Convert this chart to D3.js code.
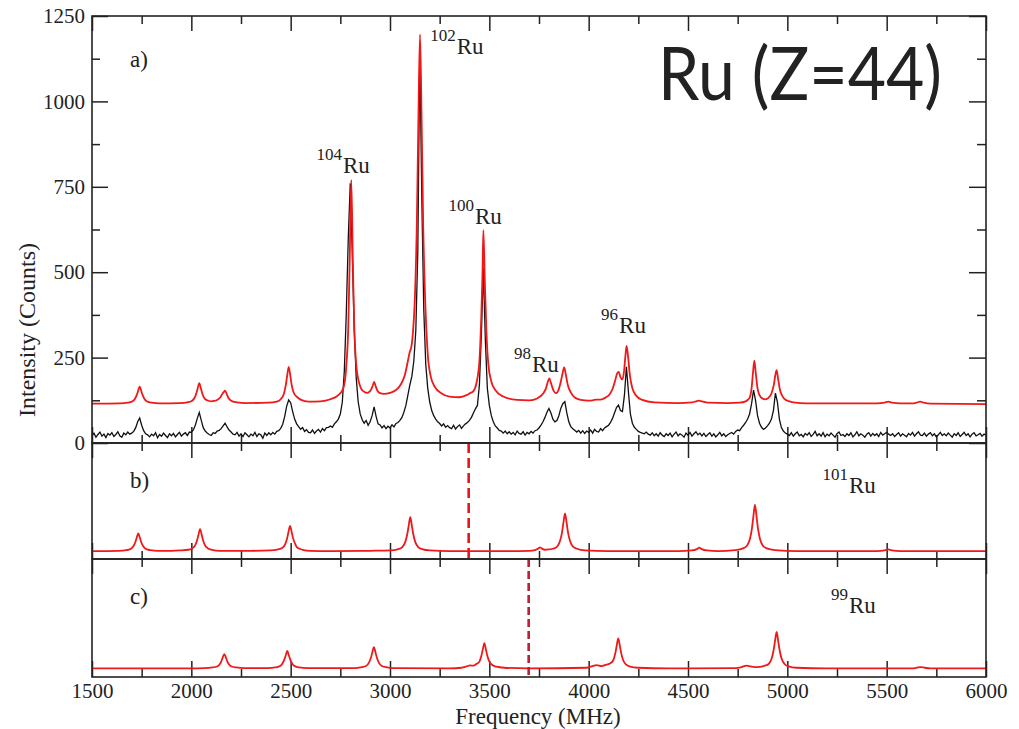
<!DOCTYPE html>
<html>
<head>
<meta charset="utf-8">
<script src="https://cdn.jsdelivr.net/npm/d3@7"></script>
<style>
body { margin: 0; background: #fff; }
text { font-family: "Liberation Serif", "Times New Roman", serif; fill: #222; }
</style>
</head>
<body>
<svg id="chart" width="1019" height="729"></svg>
<script>
// ---- data ----
const freqTicks = [1500, 2000, 2500, 3000, 3500, 4000, 4500, 5000, 5500, 6000];
const freqMinor = [1750, 2250, 2750, 3250, 3750, 4250, 4750, 5250, 5750];
const countTicks = [0, 250, 500, 750, 1000, 1250];
const countMinor = [125, 375, 625, 875, 1125];

// panel a) fit (red), [MHz, counts]
const fitA = [
  [1500,115],[1640,116],[1680,118],[1700,121],[1715,128],[1725,140],[1732,152],[1740,165],[1748,152],[1755,140],
  [1765,128],[1780,121],[1800,118],[1840,116],[1940,117],[1980,119],[2000,122],[2015,131],[2025,145],[2032,160],
  [2040,175],[2048,160],[2055,145],[2065,132],[2080,125],[2100,122],[2115,123],[2130,126],[2145,133],[2155,143],
  [2162,148],[2170,153],[2178,144],[2185,134],[2195,126],[2210,121],[2230,119],[2270,117],[2390,118],[2430,121],
  [2450,128],[2465,143],[2475,168],[2482,195],[2490,223],[2498,198],[2505,170],[2515,148],[2530,136],[2550,127],
  [2590,121],[2650,122],[2700,128],[2740,140],[2765,160],[2780,225],[2790,340],[2797,530],[2805,770],[2813,530],
  [2820,345],[2830,230],[2845,175],[2865,152],[2885,147],[2900,152],[2912,166],[2920,179],[2928,166],[2937,153],
  [2950,146],[2970,144],[3000,147],[3030,155],[3055,172],[3075,200],[3090,240],[3100,268],[3107,280],[3115,320],
  [3125,420],[3135,640],[3143,950],[3151,1196],[3159,950],[3167,640],[3177,420],[3190,260],[3205,195],[3225,165],
  [3260,145],[3300,136],[3350,134],[3385,140],[3403,146],[3420,152],[3435,175],[3450,240],[3460,380],[3465,480],
  [3470,623],[3477,480],[3485,330],[3495,230],[3510,180],[3530,155],[3570,136],[3640,126],[3700,125],[3730,128],
  [3750,134],[3770,144],[3785,160],[3795,180],[3802,189],[3810,176],[3822,155],[3835,146],[3848,155],[3860,180],
  [3869,205],[3877,221],[3885,200],[3895,170],[3910,148],[3930,133],[3960,126],[4000,124],[4020,125],[4040,127],
  [4060,127],[4085,133],[4105,142],[4120,158],[4132,180],[4143,203],[4151,208],[4160,193],[4170,186],[4178,210],
  [4185,255],[4191,284],[4198,255],[4207,200],[4220,160],[4240,138],[4270,126],[4330,119],[4450,117],[4520,119],
  [4540,122],[4555,124],[4570,122],[4600,118],[4700,117],[4760,118],[4790,122],[4800,126],[4810,132],[4820,160],
  [4827,205],[4834,241],[4841,205],[4850,160],[4860,140],[4875,130],[4890,128],[4905,132],[4920,145],[4932,170],
  [4940,200],[4946,213],[4953,190],[4962,158],[4975,137],[4995,125],[5030,119],[5100,116],[5450,116],[5490,118],
  [5508,121],[5526,118],[5570,116],[5630,116],[5650,118],[5668,121],[5686,118],[5720,115],[6000,114]
];

// panel a) measured counts (black), one value every 10 MHz from 1500 MHz
const dataStart = 1500, dataStep = 10;
const countsA = [
  22,29,17,25,32,20,26,16,28,23,  30,19,25,33,21,17,29,24,32,26,
  29,34,45,62,73,52,36,27,24,18,  26,21,30,15,25,20,29,22,16,27,
  21,28,18,25,31,20,26,30,22,32,  31,38,52,72,89,66,45,35,29,25,
  22,30,28,35,37,42,50,58,47,38,  32,26,24,31,20,27,19,30,24,18,
  26,21,31,19,27,24,14,29,22,30,  24,31,26,34,36,43,55,78,108,126,
  118,92,70,56,48,40,45,34,39,31, 30,38,28,35,40,32,42,36,45,46,
  50,46,56,62,70,85,120,210,380,600, 760,560,330,190,120,85,68,58,66,52,
  62,80,106,78,56,53,44,51,42,49, 44,53,47,57,60,66,75,90,110,140,
  170,195,240,330,560,1150,720,390,230,160, 120,95,80,70,62,57,50,56,46,51,
  45,42,52,41,48,53,43,50,56,60,  66,75,88,100,110,170,320,512,300,160,
  110,80,62,50,44,37,35,29,35,27, 33,26,31,24,35,28,26,33,23,31,
  27,34,29,36,38,44,52,62,75,90,  101,88,70,62,66,80,102,115,121,88,
  62,48,42,37,32,37,29,36,28,35,  31,38,29,40,34,32,42,36,44,48,
  52,60,72,88,104,111,95,92,140,223, 150,85,58,46,40,34,31,29,27,32,
  26,23,30,21,27,20,30,23,19,27,  22,29,18,26,32,21,27,23,17,29,
  23,31,20,27,33,24,29,21,28,19,  25,30,20,27,18,24,31,21,27,19,
  24,28,31,26,34,38,36,45,52,60,  70,85,115,155,125,80,58,46,40,44,
  50,58,70,95,146,120,70,45,35,29, 26,22,30,20,27,32,21,25,18,28,
  23,30,19,25,34,21,27,20,30,18,  26,21,29,23,17,27,32,22,25,19,
  27,22,30,18,24,33,21,27,23,17,  26,30,20,28,22,27,19,31,23,27,
  31,26,22,27,19,25,30,20,27,23,  18,28,23,31,20,27,33,23,22,29,
  20,26,30,21,27,18,24,31,22,27,  21,29,23,17,27,22,30,19,25,31,
  22,27,18,26,30,21,24,28,20,26,  23
];

// panel b) 101Ru simulation, [MHz, counts]
const sim101 = [
  [1500,23],[1633,24],[1673,26],[1693,29],[1708,37],[1718,49],[1725,62],[1733,75],[1741,62],[1748,49],
  [1758,37],[1773,29],[1793,26],[1833,24],[1900,24],[1944,25],[1984,27],[2004,31],[2019,40],[2029,55],
  [2036,71],[2044,87],[2052,71],[2059,55],[2069,40],[2084,31],[2104,27],[2144,24],[2300,24],[2397,25],
  [2437,28],[2457,32],[2472,43],[2482,60],[2489,79],[2497,97],[2505,79],[2512,61],[2522,45],[2532,34],
  [2545,30],[2565,26],[2597,24],[2700,23],[2900,24],[3002,25],[3042,29],[3062,35],[3077,50],[3087,73],
  [3094,97],[3102,122],[3110,97],[3117,73],[3127,50],[3142,35],[3162,29],[3202,25],[3300,23],[3600,23],
  [3700,24],[3730,26],[3747,31],[3755,34],[3763,31],[3780,27],[3800,28],[3821,30],[3841,36],[3856,53],
  [3866,78],[3873,106],[3881,133],[3889,106],[3896,78],[3906,53],[3921,36],[3941,30],[3981,25],[4100,23],
  [4450,23],[4520,25],[4545,29],[4557,33],[4569,29],[4595,25],[4650,23],[4737,26],[4777,31],[4797,39],
  [4812,59],[4822,90],[4829,124],[4837,158],[4845,124],[4852,90],[4862,59],[4877,39],[4897,31],[4937,26],
  [5050,23],[5450,23],[5490,25],[5508,28],[5526,25],[5570,23],[6000,23]
];

// panel c) 99Ru simulation, [MHz, counts]
const sim99 = [
  [1500,25],[2000,25],[2066,26],[2106,28],[2126,30],[2141,36],[2151,46],[2158,57],[2166,67],[2174,57],
  [2181,46],[2191,36],[2206,30],[2226,28],[2266,26],[2383,26],[2423,28],[2443,31],[2458,39],[2468,51],
  [2475,63],[2483,76],[2491,63],[2498,51],[2508,39],[2523,31],[2543,28],[2583,26],[2819,26],[2859,29],
  [2879,32],[2894,42],[2904,56],[2911,72],[2919,87],[2927,72],[2934,56],[2944,42],[2959,32],[2979,29],
  [3019,26],[3300,25],[3360,27],[3385,31],[3403,34],[3420,33],[3435,38],[3450,45],[3460,62],[3467,80],
  [3475,99],[3483,80],[3490,62],[3500,45],[3515,35],[3535,30],[3575,27],[3700,25],[3990,27],[4015,31],
  [4040,35],[4065,32],[4089,36],[4109,40],[4124,49],[4134,69],[4141,91],[4149,113],[4157,91],[4164,69],
  [4174,49],[4189,36],[4209,30],[4249,27],[4400,25],[4740,26],[4770,29],[4795,33],[4815,31],[4846,29],
  [4886,33],[4906,38],[4921,54],[4931,79],[4938,105],[4946,132],[4954,105],[4961,79],[4971,54],[4986,38],
  [5006,31],[5046,27],[5200,25],[5630,25],[5650,27],[5671,29],[5692,27],[5720,25],[6000,25]
];

// dashed markers (MHz)
const markerB = 3396;
const markerC = 3698;

// isotope labels: [mass, panel, MHz, counts]
const isotopes = [
  ["104", "a", 2763, 789],
  ["102", "a", 3336, 1140],
  ["100", "a", 3428, 640],
  ["98",  "a", 3715, 208],
  ["96",  "a", 4153, 322],
  ["101", "b", 5310, 193],
  ["99",  "c", 5310, 187]
];
const panelNames = ["a)", "b)", "c)"];

// ---- layout ----
const serif = "'Liberation Serif', 'Times New Roman', serif";
const svg = d3.select("#chart");
const left = 92, right = 986;
const panels = {
  a: { top: 16,  bottom: 443, max: 1250 },
  b: { top: 443, bottom: 559, max: 339 },
  c: { top: 559, bottom: 677, max: 345 }
};

const x = d3.scaleLinear().domain([1500, 6000]).range([left, right]);
for (const k in panels) {
  const p = panels[k];
  p.y = d3.scaleLinear().domain([0, p.max]).range([p.bottom, p.top]);
}

function ticks(axis, values, size, tx, ty, labels) {
  const g = svg.append("g")
    .attr("transform", "translate(" + tx + "," + ty + ")")
    .call(axis.tickValues(values).tickSize(size).tickPadding(labels ? 7 : 0)
      .tickFormat(labels ? d3.format("d") : ""));
  g.select(".domain").remove();
  g.selectAll("line").attr("stroke", "#222").attr("stroke-width", 1.5);
  g.selectAll("text").style("font-family", serif).style("font-size", "21px").attr("fill", "#222");
  return g;
}

// ticks, all pointing into the panels
for (const k in panels) {
  const p = panels[k];
  ticks(d3.axisTop(x), freqTicks, -15, 0, p.top, false);
  ticks(d3.axisTop(x), freqMinor, -8, 0, p.top, false);
  ticks(d3.axisBottom(x), freqTicks, -16, 0, p.bottom, false);
  ticks(d3.axisBottom(x), freqMinor, -8, 0, p.bottom, false);
}
ticks(d3.axisLeft(panels.a.y), countTicks, -16, left, 0, true);
ticks(d3.axisLeft(panels.a.y), countMinor, -8, left, 0, false);
ticks(d3.axisRight(panels.a.y), countTicks, -17, right, 0, false);
ticks(d3.axisRight(panels.a.y), countMinor, -9, right, 0, false);
ticks(d3.axisBottom(x), freqTicks, 0, 0, panels.c.bottom, true)
  .selectAll("text").attr("dy", "0.66em");

// curves
const lineFor = (yScale) => d3.line()
  .x(d => x(d[0])).y(d => yScale(d[1]))
  .curve(d3.curveMonotoneX);

const measured = countsA.map((v, i) => [dataStart + i * dataStep, v]);

svg.append("path").datum(measured)
  .attr("d", d3.line().x(d => x(d[0])).y(d => panels.a.y(d[1])))
  .attr("fill", "none").attr("stroke", "#111").attr("stroke-width", 1.3);
svg.append("path").datum(fitA)
  .attr("d", lineFor(panels.a.y))
  .attr("fill", "none").attr("stroke", "#f01818").attr("stroke-width", 1.8);
svg.append("path").datum(sim101)
  .attr("d", lineFor(panels.b.y))
  .attr("fill", "none").attr("stroke", "#f01818").attr("stroke-width", 1.8);
svg.append("path").datum(sim99)
  .attr("d", lineFor(panels.c.y))
  .attr("fill", "none").attr("stroke", "#f01818").attr("stroke-width", 1.8);

// dashed markers
svg.append("line")
  .attr("x1", x(markerB)).attr("x2", x(markerB))
  .attr("y1", panels.b.top).attr("y2", panels.b.bottom)
  .attr("stroke", "#e8141c").attr("stroke-width", 2.6).attr("stroke-dasharray", "10,5");
svg.append("line")
  .attr("x1", x(markerC)).attr("x2", x(markerC))
  .attr("y1", panels.c.top).attr("y2", panels.c.bottom)
  .attr("stroke", "#b82034").attr("stroke-width", 2.6).attr("stroke-dasharray", "8,4");

// panel frames
for (const k in panels) {
  const p = panels[k];
  svg.append("rect")
    .attr("x", left).attr("y", p.top)
    .attr("width", right - left).attr("height", p.bottom - p.top)
    .attr("fill", "none").attr("stroke", "#222").attr("stroke-width", 1.6);
}

// panel letters
const letterY = [67, 488, 604];
panelNames.forEach((t, i) => {
  svg.append("text").attr("x", 130).attr("y", letterY[i])
    .style("font-size", "23px").text(t);
});

// isotope labels
isotopes.forEach(([mass, pk, f, c]) => {
  const px = x(f), py = panels[pk].y(c);
  svg.append("text").attr("x", px - 1).attr("y", py - 13)
    .attr("text-anchor", "end").style("font-size", "17px").text(mass);
  svg.append("text").attr("x", px).attr("y", py)
    .style("font-size", "23px").text("Ru");
});

// axis titles
svg.append("text")
  .attr("transform", "translate(35," + 330 + ") rotate(-90)")
  .attr("text-anchor", "middle").style("font-size", "24px")
  .text("Intensity (Counts)");
svg.append("text")
  .attr("x", 538).attr("y", 724)
  .attr("text-anchor", "middle").style("font-size", "23px")
  .text("Frequency (MHz)");

// element tag
svg.append("text")
  .attr("x", 658).attr("y", 100)
  .attr("textLength", 284).attr("lengthAdjust", "spacingAndGlyphs")
  .style("font-family", "Lato, 'Open Sans', sans-serif")
  .style("font-size", "74px").attr("fill", "#000")
  .text("Ru (Z=44)");
</script>
</body>
</html>
